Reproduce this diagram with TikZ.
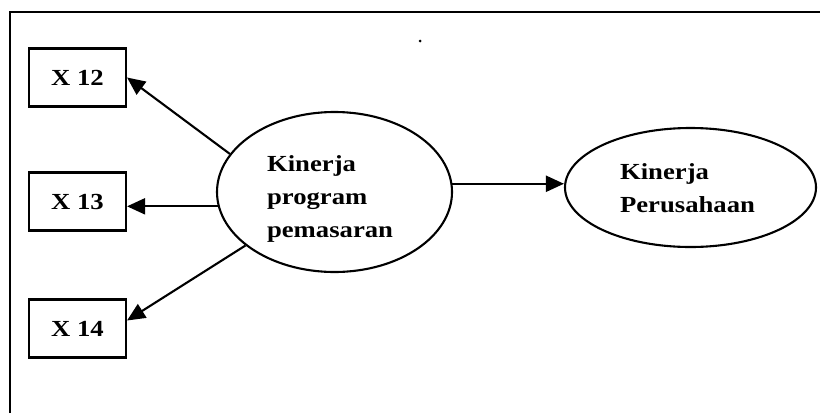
\documentclass[tikz,border=0pt]{standalone}
\usepackage{fontspec}
\setmainfont{Liberation Serif}[FakeStretch=1.16]
\usetikzlibrary{shapes.geometric,arrows.meta}
\begin{document}
\begin{tikzpicture}[x=1pt,y=-1pt,
  line width=2.1pt,
  varbox/.style={draw, rectangle, minimum width=97pt, minimum height=58pt,
    inner sep=0pt, font=\bfseries\fontsize{23}{27}\selectfont},
  latent/.style={draw, ellipse, inner sep=0pt},
  label/.style={anchor=north west, align=left, inner sep=0pt,
    font=\bfseries\fontsize{23}{33}\selectfont},
  link/.style={-{Triangle[length=18pt,width=16pt]}, line width=2.1pt}]
  \useasboundingbox (0,0) rectangle (822,413);

  % frame: top and left edges only
  \draw (10,413) -- (10,12) -- (820,12);
  \fill (420,41) circle (1.5pt);

  % indicator boxes
  \node[varbox] (x12) at (77.5,77.5) {X 12};
  \node[varbox] (x13) at (77.5,201.5) {X 13};
  \node[varbox] (x14) at (77.5,328.5) {X 14};

  % latent constructs
  \node[latent, minimum width=235pt, minimum height=160pt] (kpp) at (334.5,192) {};
  \node[latent, minimum width=251pt, minimum height=119pt] (kp) at (690.5,187.5) {};

  \node[label] (kpptext) at (266,154) {Kinerja\\program\\pemasaran};
  \node[label] (kptext) at (619,162) {Kinerja\\Perusahaan};

  % connectors
  \draw[link] (kpp.160) -- (x12.east);
  \draw[link] (kpp.187.4) -- (kpp.187.4 -| x13.east);
  \draw[link] (kpp.211) -- ([yshift=8pt]x14.east);
  \draw[link] (kpp.4.9) -- (kpp.4.9 -| kp.west);
\end{tikzpicture}
\end{document}
